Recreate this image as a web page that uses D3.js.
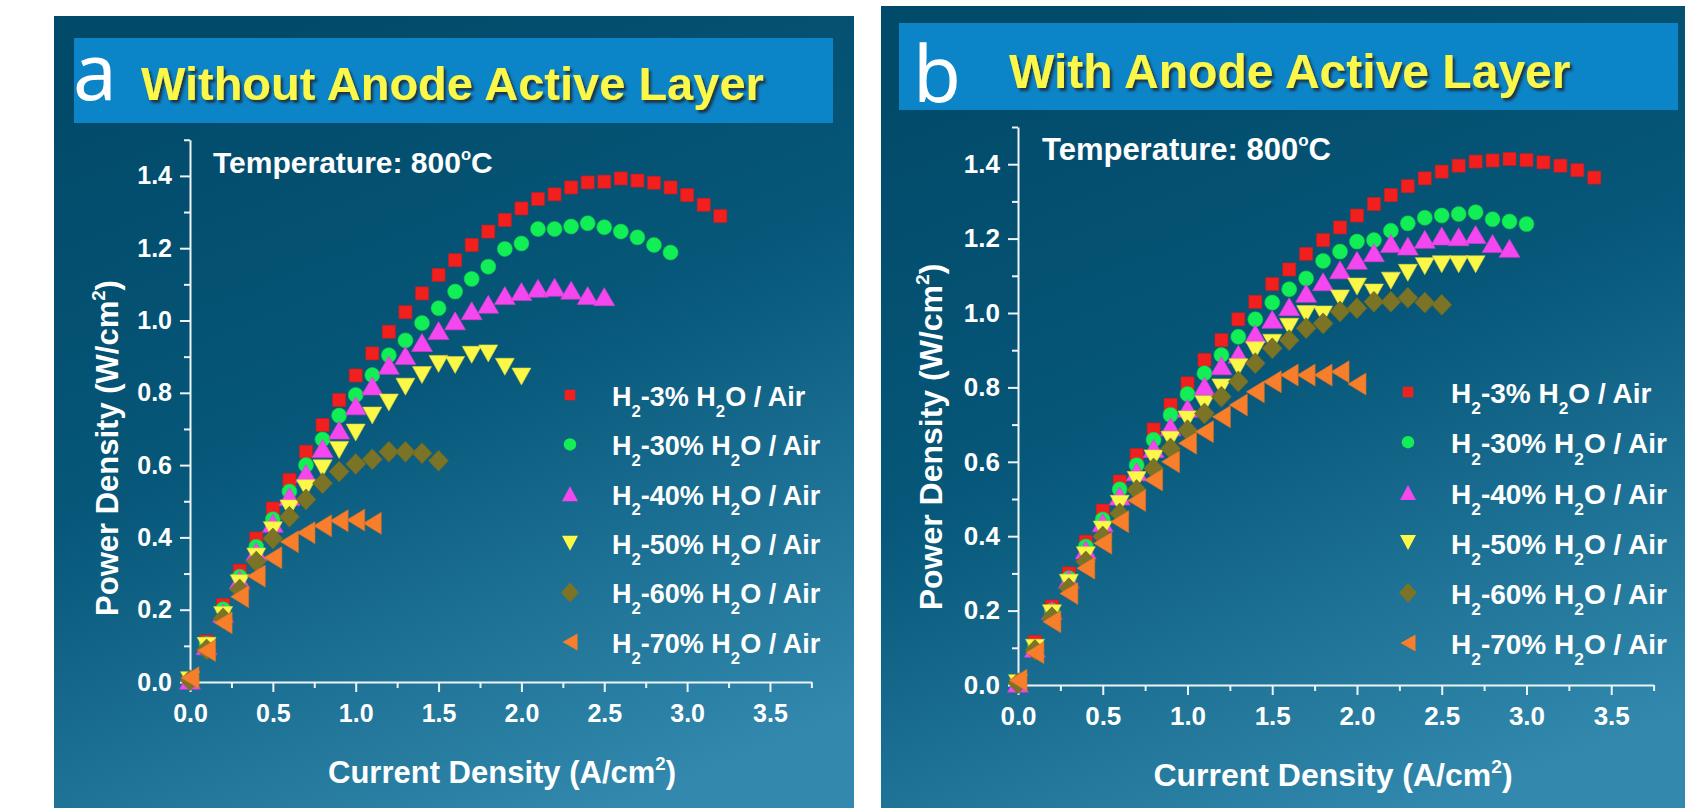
<!DOCTYPE html>
<html><head><meta charset="utf-8">
<script src="https://cdn.jsdelivr.net/npm/d3@7"></script>
<style>
html,body{margin:0;padding:0;background:#ffffff;}
svg{display:block;}
text{font-family:"Liberation Sans",Arial,Helvetica,sans-serif;}
</style>
</head><body>
<svg id="chart" width="1689" height="808"></svg>
<script>
// ---------------- DATA ----------------
const currentDensity = [0, 0.1, 0.2, 0.3, 0.4, 0.5, 0.6, 0.7, 0.8, 0.9, 1.0, 1.1, 1.2, 1.3, 1.4, 1.5, 1.6, 1.7,
  1.8, 1.9, 2.0, 2.1, 2.2, 2.3, 2.4, 2.5, 2.6, 2.7, 2.8, 2.9, 3.0, 3.1, 3.2, 3.3, 3.4];
const xTickValues = [0, 0.5, 1.0, 1.5, 2.0, 2.5, 3.0, 3.5];
const xMinorTicks = [0.25, 0.75, 1.25, 1.75, 2.25, 2.75, 3.25, 3.75];
const yTickValues = [0, 0.2, 0.4, 0.6, 0.8, 1.0, 1.2, 1.4];
const yMinorTicks = [0.1, 0.3, 0.5, 0.7, 0.9, 1.1, 1.3, 1.5];
const waterContents = ["3%", "30%", "40%", "50%", "60%", "70%"];
const panelLetters = ["a", "b"];
const panelTitles = ["Without Anode Active Layer", "With Anode Active Layer"];
const temperatureText = "Temperature: 800";
const xAxisTitle = "Current Density (A/cm";
const yAxisTitle = "Power Density (W/cm";

// Panel a: without anode active layer (power density, W/cm2)
const powerA_H3 = [0.005, 0.112, 0.213, 0.308, 0.397, 0.480, 0.559, 0.637, 0.711, 0.780, 0.848, 0.909, 0.969, 1.023,
  1.075, 1.126, 1.167, 1.209, 1.246, 1.278, 1.310, 1.336, 1.349, 1.368, 1.382, 1.384, 1.393, 1.387, 1.381, 1.368,
  1.347, 1.320, 1.289];
const powerA_H30 = [0.005, 0.105, 0.201, 0.291, 0.374, 0.450, 0.527, 0.600, 0.671, 0.737, 0.794, 0.849, 0.904,
  0.945, 0.993, 1.034, 1.080, 1.115, 1.149, 1.198, 1.213, 1.253, 1.253, 1.260, 1.269, 1.258, 1.246, 1.230, 1.209,
  1.188];
const powerA_H40 = [0.005, 0.100, 0.190, 0.282, 0.360, 0.439, 0.513, 0.577, 0.646, 0.697, 0.764, 0.819, 0.876,
  0.903, 0.939, 0.972, 0.999, 1.027, 1.045, 1.069, 1.080, 1.089, 1.092, 1.084, 1.069, 1.066];
const powerA_H50 = [0.005, 0.100, 0.185, 0.273, 0.347, 0.420, 0.480, 0.536, 0.591, 0.642, 0.690, 0.737, 0.773,
  0.817, 0.849, 0.880, 0.877, 0.905, 0.909, 0.872, 0.845];
const powerA_H60 = [0.005, 0.090, 0.176, 0.256, 0.333, 0.397, 0.457, 0.505, 0.550, 0.582, 0.603, 0.616, 0.637,
  0.637, 0.633, 0.612];
const powerA_H70 = [0.012, 0.087, 0.164, 0.236, 0.293, 0.344, 0.388, 0.413, 0.432, 0.446, 0.448, 0.439];

// Panel b: with anode active layer
const powerB_H3 = [0.005, 0.116, 0.211, 0.300, 0.385, 0.469, 0.547, 0.618, 0.687, 0.753, 0.811, 0.874, 0.927, 0.983,
  1.030, 1.078, 1.117, 1.159, 1.196, 1.230, 1.262, 1.293, 1.317, 1.341, 1.362, 1.380, 1.396, 1.407, 1.410, 1.414,
  1.411, 1.405, 1.396, 1.384, 1.364];
const powerB_H30 = [0.005, 0.103, 0.200, 0.287, 0.372, 0.445, 0.526, 0.591, 0.659, 0.726, 0.782, 0.838, 0.887,
  0.936, 0.983, 1.028, 1.064, 1.093, 1.140, 1.165, 1.192, 1.196, 1.221, 1.241, 1.256, 1.262, 1.266, 1.271, 1.252,
  1.246, 1.239];
const powerB_H40 = [0.005, 0.099, 0.200, 0.284, 0.363, 0.436, 0.508, 0.573, 0.636, 0.694, 0.744, 0.803, 0.858,
  0.889, 0.944, 0.983, 1.017, 1.053, 1.084, 1.116, 1.142, 1.162, 1.187, 1.180, 1.198, 1.207, 1.205, 1.211, 1.187,
  1.174];
const powerB_H50 = [0.005, 0.100, 0.193, 0.275, 0.349, 0.418, 0.487, 0.551, 0.609, 0.659, 0.714, 0.755, 0.800,
  0.854, 0.900, 0.920, 0.963, 0.997, 0.996, 1.039, 1.071, 1.055, 1.087, 1.108, 1.126, 1.131, 1.131, 1.131];
const powerB_H60 = [0.005, 0.094, 0.182, 0.260, 0.332, 0.399, 0.461, 0.524, 0.582, 0.636, 0.685, 0.730, 0.775,
  0.816, 0.865, 0.905, 0.927, 0.959, 0.972, 1.004, 1.013, 1.030, 1.030, 1.041, 1.028, 1.022];
const powerB_H70 = [0.013, 0.087, 0.170, 0.246, 0.314, 0.381, 0.439, 0.496, 0.551, 0.600, 0.650, 0.681, 0.721,
  0.753, 0.788, 0.815, 0.833, 0.833, 0.833, 0.842, 0.809];

// ---------------- STYLE ----------------
const seriesColors = ["#f21f1f", "#12ee55", "#f547ef", "#fcf848", "#7b7427", "#f77f2c"];
const seriesShapes = ["square", "circle", "up", "down", "diamond", "left"];
const plotSizes = { square: [13, 13], circle: [15, 15], up: [21, 18], down: [19, 17], diamond: [20, 21], left: [18, 22] };
const legendSizes = { square: [10.5, 10.5], circle: [12.5, 12.5], up: [16, 15], down: [16, 15], diamond: [18, 20], left: [15, 17] };

function shapePath(type, w, h) {
  const a = w / 2, b = h / 2;
  switch (type) {
    case "square": return `M${-a},${-b}H${a}V${b}H${-a}Z`;
    case "circle": return `M${a},0A${a},${a} 0 1,1 ${-a},0A${a},${a} 0 1,1 ${a},0Z`;
    case "up": return `M0,${-b}L${a},${b}L${-a},${b}Z`;
    case "down": return `M0,${b}L${a},${-b}L${-a},${-b}Z`;
    case "diamond": return `M0,${-b}L${a},0L0,${b}L${-a},0Z`;
    case "left": return `M${-a},0L${a},${-b}L${a},${b}Z`;
  }
}

const panels = [
  { letter: panelLetters[0], title: panelTitles[0],
    series: [powerA_H3, powerA_H30, powerA_H40, powerA_H50, powerA_H60, powerA_H70],
    rect: [54, 16, 800, 792], bar: [74, 38, 759, 85],
    letterX: 73, letterBase: 100, titleX: 141, titleBase: 100, titleSize: 47,
    xr: [190, 811.4], yr: [682, 139.75],
    tempX: 213, tempBase: 173, tempSize: 30, tickSize: 25,
    legX: 570, legTextX: 612, legY0: 395, legDy: 49.4, legSize: 27,
    xTitleX: 502, xTitleBase: 783, yTitleX: 118, yTitleY: 448, axisTitleSize: 31 },
  { letter: panelLetters[1], title: panelTitles[1],
    series: [powerB_H3, powerB_H30, powerB_H40, powerB_H50, powerB_H60, powerB_H70],
    rect: [881, 6, 804, 802], bar: [899, 23, 779, 87],
    letterX: 913, letterBase: 102, titleX: 1009, titleBase: 88, titleSize: 48,
    xr: [1018, 1653.6], yr: [685, 127],
    tempX: 1042, tempBase: 160, tempSize: 31, tickSize: 26,
    legX: 1408, legTextX: 1451, legY0: 392, legDy: 50.2, legSize: 28,
    xTitleX: 1333, xTitleBase: 786, yTitleX: 942, yTitleY: 437, axisTitleSize: 32 }
];

const svg = d3.select("#chart");
const defs = svg.append("defs");
const grad = defs.append("linearGradient").attr("id", "bg").attr("x1", 0.3).attr("y1", 0).attr("x2", 0.7).attr("y2", 1);
grad.append("stop").attr("offset", 0).attr("stop-color", "#024a6a");
grad.append("stop").attr("offset", 0.45).attr("stop-color", "#065779");
grad.append("stop").attr("offset", 1).attr("stop-color", "#3289ad");
const shadow = defs.append("filter").attr("id", "tshadow").attr("x", "-5%").attr("y", "-20%").attr("width", "115%").attr("height", "150%");
shadow.append("feDropShadow").attr("dx", 2.5).attr("dy", 3).attr("stdDeviation", 1.3)
  .attr("flood-color", "#1b2a33").attr("flood-opacity", 0.85);

const AXIS_COLOR = "#eef3f6";

panels.forEach(p => {
  const g = svg.append("g");
  g.append("rect").attr("x", p.rect[0]).attr("y", p.rect[1]).attr("width", p.rect[2]).attr("height", p.rect[3])
    .attr("fill", "url(#bg)");
  g.append("rect").attr("x", p.bar[0]).attr("y", p.bar[1]).attr("width", p.bar[2]).attr("height", p.bar[3])
    .attr("fill", "#0c84c8");
  g.append("text").attr("x", p.letterX).attr("y", p.letterBase).text(p.letter)
    .style("font-family", "'Noto Sans','Open Sans',sans-serif").attr("font-size", 78).attr("fill", "#ffffff");
  g.append("text").attr("x", p.titleX).attr("y", p.titleBase).text(p.title)
    .attr("font-size", p.titleSize).attr("font-weight", "bold").attr("fill", "#fbf84a").attr("filter", "url(#tshadow)");

  const x = d3.scaleLinear().domain([0, 3.75]).range(p.xr);
  const y = d3.scaleLinear().domain([0, 1.5]).range(p.yr);

  // temperature label
  const tt = g.append("text").attr("x", p.tempX).attr("y", p.tempBase).attr("font-size", p.tempSize)
    .attr("font-weight", "bold").attr("fill", "#ffffff");
  tt.append("tspan").text(temperatureText);
  tt.append("tspan").text("o").attr("font-size", p.tempSize * 0.55).attr("dy", -p.tempSize * 0.45);
  tt.append("tspan").text("C").attr("dy", p.tempSize * 0.45);

  // axes
  const styleAxis = (sel, fs) => {
    sel.attr("font-family", null).attr("font-size", null);
    sel.select(".domain").attr("stroke", AXIS_COLOR).attr("stroke-width", 2);
    sel.selectAll(".tick line").attr("stroke", AXIS_COLOR).attr("stroke-width", 2);
    sel.selectAll(".tick text").attr("fill", "#ffffff").attr("font-size", fs).attr("font-weight", "bold");
  };
  g.append("g").attr("transform", `translate(0,${p.yr[0]})`)
    .call(d3.axisBottom(x).tickValues(xMinorTicks).tickSize(6).tickSizeOuter(0).tickFormat(""))
    .call(s => { styleAxis(s, p.tickSize); s.select(".domain").remove(); });
  g.append("g").attr("transform", `translate(${p.xr[0]},0)`)
    .call(d3.axisLeft(y).tickValues(yMinorTicks).tickSize(6).tickSizeOuter(0).tickFormat(""))
    .call(s => { styleAxis(s, p.tickSize); s.select(".domain").remove(); });
  g.append("g").attr("transform", `translate(0,${p.yr[0]})`)
    .call(d3.axisBottom(x).tickValues(xTickValues).tickSize(10).tickSizeOuter(0).tickPadding(12).tickFormat(d3.format(".1f")))
    .call(s => styleAxis(s, p.tickSize));
  g.append("g").attr("transform", `translate(${p.xr[0]},0)`)
    .call(d3.axisLeft(y).tickValues(yTickValues).tickSize(10).tickSizeOuter(0).tickPadding(8).tickFormat(d3.format(".1f")))
    .call(s => styleAxis(s, p.tickSize));

  // axis titles
  const xt = g.append("text").attr("x", p.xTitleX).attr("y", p.xTitleBase).attr("text-anchor", "middle")
    .attr("font-size", p.axisTitleSize).attr("font-weight", "bold").attr("fill", "#ffffff");
  xt.append("tspan").text(xAxisTitle);
  xt.append("tspan").text("2").attr("font-size", p.axisTitleSize * 0.6).attr("dy", -p.axisTitleSize * 0.42);
  xt.append("tspan").text(")").attr("dy", p.axisTitleSize * 0.42);
  const yt = g.append("text").attr("transform", `translate(${p.yTitleX},${p.yTitleY}) rotate(-90)`)
    .attr("text-anchor", "middle").attr("font-size", p.axisTitleSize).attr("font-weight", "bold").attr("fill", "#ffffff");
  yt.append("tspan").text(yAxisTitle);
  yt.append("tspan").text("2").attr("font-size", p.axisTitleSize * 0.6).attr("dy", -p.axisTitleSize * 0.42);
  yt.append("tspan").text(")").attr("dy", p.axisTitleSize * 0.42);

  // data points
  p.series.forEach((vals, i) => {
    const shape = seriesShapes[i];
    const [w, h] = plotSizes[shape];
    g.append("g").selectAll("path").data(vals).join("path")
      .attr("transform", (d, j) => `translate(${x(currentDensity[j])},${y(d)})`)
      .attr("d", shapePath(shape, w, h))
      .attr("fill", seriesColors[i])
      .attr("stroke", d3.color(seriesColors[i]).darker(0.4)).attr("stroke-width", 0.6);
  });

  // legend
  waterContents.forEach((wc, i) => {
    const cy = p.legY0 + i * p.legDy;
    const shape = seriesShapes[i];
    const [w, h] = legendSizes[shape];
    g.append("path").attr("transform", `translate(${p.legX},${cy})`).attr("d", shapePath(shape, w, h))
      .attr("fill", seriesColors[i]);
    const fs = p.legSize;
    const t = g.append("text").attr("x", p.legTextX).attr("y", cy + fs * 0.4).attr("font-size", fs)
      .attr("font-weight", "bold").attr("fill", "#ffffff");
    t.append("tspan").text("H");
    t.append("tspan").text("2").attr("font-size", fs * 0.62).attr("dy", fs * 0.4);
    t.append("tspan").text("-" + wc + " H").attr("dy", -fs * 0.4);
    t.append("tspan").text("2").attr("font-size", fs * 0.62).attr("dy", fs * 0.4);
    t.append("tspan").text("O / Air").attr("dy", -fs * 0.4);
  });
});
</script>
</body></html>
